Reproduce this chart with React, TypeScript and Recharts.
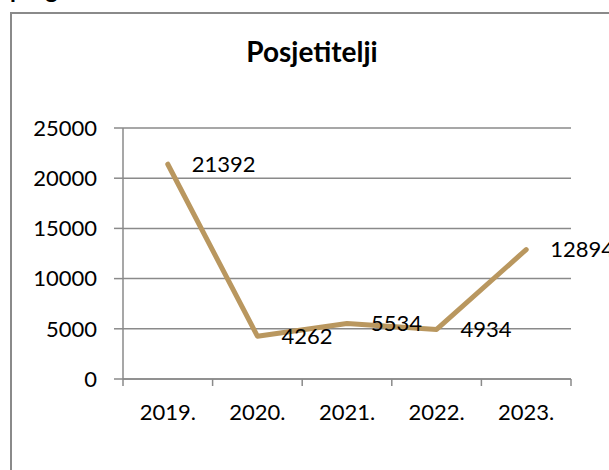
import React from 'react';
import { LineChart, Line, XAxis, YAxis, CartesianGrid, LabelList } from 'recharts';

const title = 'Posjetitelji';
const years = ['2019.', '2020.', '2021.', '2022.', '2023.'];
const visitors = [21392, 4262, 5534, 4934, 12894];
const yTicks = [0, 5000, 10000, 15000, 20000, 25000];

const FONT = 'Lato, "Open Sans", sans-serif';
const LINE_COLOR = '#B9975F';
const GRID = '#8a8a8a';
const TICK_SIZE = 7;
const FS = 22;

const data = years.map((year, i) => ({ pos: i + 0.5, year, value: visitors[i] }));
const xTicks: number[] = [];
for (let i = 0; i <= years.length * 2; i++) xTicks.push(i / 2);

const XTick = (props: any) => {
  const { x, y, payload } = props;
  const v = payload.value as number;
  const axisY = y - TICK_SIZE;
  if (Number.isInteger(v)) {
    return <line x1={x} x2={x} y1={axisY} y2={axisY + TICK_SIZE} stroke={GRID} strokeWidth={1.5} />;
  }
  const label = years[Math.round(v - 0.5)];
  return (
    <text x={x} y={axisY + 32} textAnchor="middle" dominantBaseline="central" fill="#000" fontSize={FS} fontFamily={FONT}>
      {label}
    </text>
  );
};

export default function App() {
  return (
    <div style={{ position: 'absolute', left: 0, top: 0, width: 609, height: 470, overflow: 'hidden', background: '#fff' }}>
      <div
        style={{
          position: 'absolute', left: 10, top: -23, fontFamily: FONT, fontWeight: 700, fontSize: 24,
          lineHeight: '24px', letterSpacing: 4, color: '#000', whiteSpace: 'nowrap',
        }}
      >
        pog
      </div>
      <div
        style={{
          position: 'absolute', left: 10, top: 12, width: 620, height: 500,
          border: '2px solid #8a8a8a', boxSizing: 'border-box',
        }}
      />
      <div
        style={{
          position: 'absolute', left: 112, top: 37, width: 400, textAlign: 'center', fontFamily: FONT,
          fontWeight: 700, fontSize: 28, lineHeight: '28px', color: '#000',
        }}
      >
        {title}
      </div>
      <div style={{ position: 'absolute', left: 0, top: 0 }}>
        <LineChart width={609} height={470} data={data} margin={{ top: 128, right: 38, bottom: 0, left: 0 }}>
          <CartesianGrid vertical={false} stroke={GRID} strokeWidth={1.5} />
          <XAxis
            dataKey="pos"
            type="number"
            domain={[0, years.length]}
            ticks={xTicks}
            interval={0}
            height={91}
            tickLine={false}
            tickSize={TICK_SIZE}
            tickMargin={0}
            axisLine={{ stroke: GRID, strokeWidth: 1.5 }}
            tick={<XTick />}
          />
          <YAxis
            type="number"
            domain={[0, 25000]}
            ticks={yTicks}
            interval={0}
            width={123}
            tickSize={9}
            tickMargin={17}
            axisLine={{ stroke: GRID, strokeWidth: 1.5 }}
            tickLine={{ stroke: GRID, strokeWidth: 1.5 }}
            tick={{ fill: '#000', fontSize: FS, fontFamily: FONT }}
          />
          <Line
            type="linear"
            dataKey="value"
            stroke={LINE_COLOR}
            strokeWidth={5}
            strokeLinecap="round"
            strokeLinejoin="round"
            dot={false}
            activeDot={false}
            isAnimationActive={false}
          >
            <LabelList dataKey="value" position="right" offset={24} fill="#000" fontSize={FS} fontFamily={FONT} />
          </Line>
        </LineChart>
      </div>
    </div>
  );
}
